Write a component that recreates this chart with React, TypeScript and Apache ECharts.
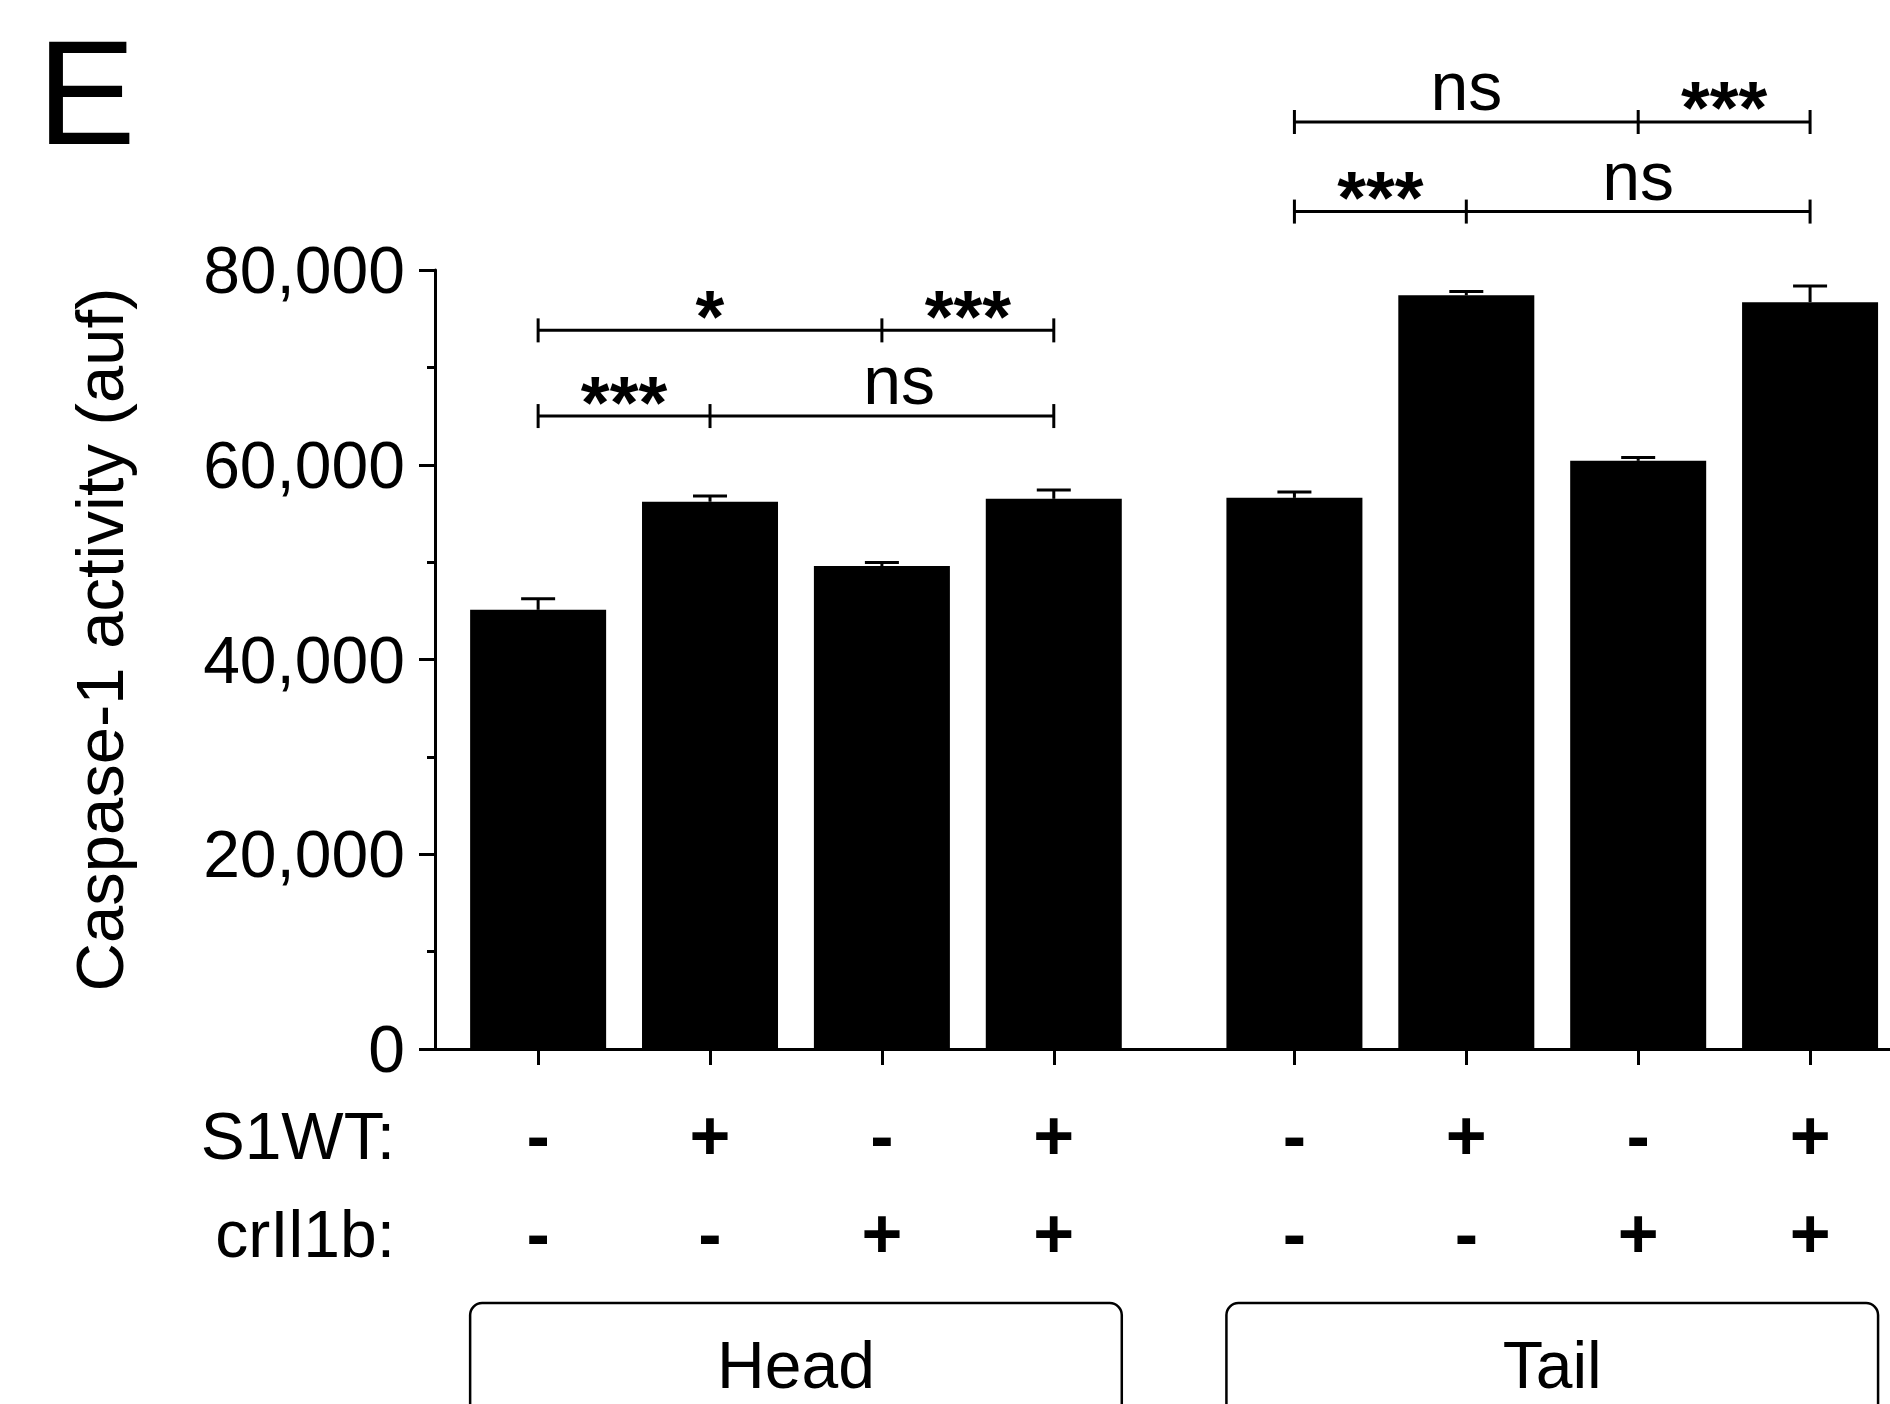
import React, { useEffect, useRef } from "react";
import * as echarts from "echarts";

const FONT = "'Liberation Sans', Arial, Helvetica, sans-serif";

const groupNames = ["Head", "Tail"];
const groupFirstBar = [0, 4];
const groupLastBar = [3, 7];
const s1wt = ["-", "+", "-", "+", "-", "+", "-", "+"];
const crIl1b = ["-", "-", "+", "+", "-", "-", "+", "+"];
const barPos = [0, 1, 2, 3, 4.4, 5.4, 6.4, 7.4];
const means = [45100, 56200, 49600, 56500, 56600, 77400, 60400, 76700];
const sem = [1150, 600, 350, 900, 600, 380, 350, 1650];

const bracketFrom = [0, 0, 4, 4];
const bracketMid = [1, 2, 5, 6];
const bracketTo = [3, 3, 7, 7];
const bracketLevel = [65000, 73800, 86000, 95200];
const leftMark = ["***", "*", "***", "ns"];
const rightMark = ["ns", "***", "ns", "***"];
const leftMarkPos = [0.5, 1, 4.9, 5.4];
const rightMarkPos = [2.1, 2.5, 6.4, 6.9];

const BAR_W = 136;

function markText(txt: string, x: number, yLine: number) {
  const isNs = txt === "ns";
  return {
    type: "text",
    x,
    y: isNs ? yLine - 36 : yLine - 14,
    style: {
      text: txt,
      fill: "#000",
      fontSize: isNs ? 68 : 74,
      fontWeight: isNs ? "normal" : "bold",
      fontFamily: FONT,
      align: "center",
      verticalAlign: "middle",
    },
  };
}

export default function App() {
  const ref = useRef<HTMLDivElement>(null);
  useEffect(() => {
    document.body.style.margin = "0";
    const chart = echarts.init(ref.current!, null, { renderer: "svg" });
    const lineStyle = { color: "#000", width: 3 };
    chart.setOption({
      animation: false,
      backgroundColor: "#fff",
      grid: {
        left: 435,
        right: 0,
        top: 270,
        bottom: 355,
        containLabel: false,
        outerBoundsMode: "none",
      },
      xAxis: {
        type: "value",
        min: -0.6,
        max: 7.865,
        splitLine: { show: false },
        axisLine: { show: true, onZero: false, lineStyle },
        axisTick: { show: true, customValues: barPos, length: 16, lineStyle },
        axisLabel: {
          show: true,
          customValues: barPos,
          margin: 38,
          lineHeight: 98,
          formatter: (v: number) => {
            const i = barPos.findIndex((p) => Math.abs(p - v) < 1e-6);
            if (i < 0) return "";
            return `{s|${s1wt[i]}}\n{s|${crIl1b[i]}}`;
          },
          rich: {
            s: {
              fontSize: 70,
              fontWeight: "bold",
              lineHeight: 98,
              fontFamily: FONT,
              color: "#000",
            },
          },
        },
      },
      yAxis: {
        type: "value",
        min: 0,
        max: 80000,
        interval: 20000,
        name: "Caspase-1 activity (auf)",
        nameLocation: "middle",
        nameRotate: 90,
        nameGap: 302,
        nameTextStyle: {
          fontSize: 67,
          fontFamily: FONT,
          color: "#000",
          padding: [0, 0, 0, 40],
        },
        splitLine: { show: false },
        axisLine: { show: true, onZero: false, lineStyle },
        axisTick: { show: true, length: 16, lineStyle },
        minorTick: { show: true, splitNumber: 2, length: 8, lineStyle },
        axisLabel: {
          fontSize: 66,
          fontFamily: FONT,
          color: "#000",
          margin: 30,
          formatter: (v: number) => v.toLocaleString("en-US"),
        },
      },
      series: [
        {
          type: "bar",
          data: barPos.map((p, i) => [p, means[i]]),
          barWidth: BAR_W,
          itemStyle: { color: "#000" },
          z: 2,
        },
        {
          type: "custom",
          z: 3,
          clip: false,
          data: barPos.map((p, i) => [p, means[i], means[i] + sem[i]]),
          renderItem: (params: any, api: any) => {
            const x = api.value(0);
            const base = api.coord([x, api.value(1)]);
            const top = api.coord([x, api.value(2)]);
            return {
              type: "group",
              children: [
                {
                  type: "line",
                  shape: { x1: top[0], y1: base[1], x2: top[0], y2: top[1] },
                  style: { stroke: "#000", lineWidth: 3 },
                },
                {
                  type: "line",
                  shape: { x1: top[0] - 17, y1: top[1], x2: top[0] + 17, y2: top[1] },
                  style: { stroke: "#000", lineWidth: 3 },
                },
              ],
            };
          },
        },
        {
          type: "custom",
          z: 4,
          clip: false,
          data: bracketLevel.map((lv, i) => [barPos[bracketFrom[i]], lv]),
          renderItem: (params: any, api: any) => {
            const i = params.dataIndex;
            const y = api.coord([0, bracketLevel[i]])[1];
            const xa = api.coord([barPos[bracketFrom[i]], 0])[0];
            const xm = api.coord([barPos[bracketMid[i]], 0])[0];
            const xb = api.coord([barPos[bracketTo[i]], 0])[0];
            const xl = api.coord([leftMarkPos[i], 0])[0];
            const xr = api.coord([rightMarkPos[i], 0])[0];
            const st = { stroke: "#000", lineWidth: 3 };
            const tick = (x: number) => ({
              type: "line",
              shape: { x1: x, y1: y - 12, x2: x, y2: y + 12 },
              style: st,
            });
            return {
              type: "group",
              children: [
                { type: "line", shape: { x1: xa, y1: y, x2: xb, y2: y }, style: st },
                tick(xa),
                tick(xm),
                tick(xb),
                markText(leftMark[i], xl, y),
                markText(rightMark[i], xr, y),
              ],
            };
          },
        },
        {
          type: "custom",
          z: 4,
          clip: false,
          data: groupNames.map((g, i) => [barPos[groupFirstBar[i]], 0]),
          renderItem: (params: any, api: any) => {
            const i = params.dataIndex;
            const cs = params.coordSys;
            const l = api.coord([barPos[groupFirstBar[i]], 0])[0] - BAR_W / 2;
            const r = api.coord([barPos[groupLastBar[i]], 0])[0] + BAR_W / 2;
            const top = cs.y + cs.height + 254;
            return {
              type: "group",
              children: [
                {
                  type: "rect",
                  shape: { x: l, y: top, width: r - l, height: 200, r: 12 },
                  style: { fill: "none", stroke: "#000", lineWidth: 2.5 },
                },
                {
                  type: "text",
                  x: (l + r) / 2,
                  y: top + 62,
                  style: {
                    text: groupNames[i],
                    fill: "#000",
                    fontSize: 66,
                    fontFamily: FONT,
                    align: "center",
                    verticalAlign: "middle",
                  },
                },
              ],
            };
          },
        },
      ],
      graphic: [
        {
          type: "text",
          x: 37,
          y: 92,
          style: {
            text: "E",
            fill: "#000",
            fontSize: 148,
            fontFamily: FONT,
            align: "left",
            verticalAlign: "middle",
          },
        },
        {
          type: "text",
          x: 395,
          y: 1136,
          style: {
            text: "S1WT:",
            fill: "#000",
            fontSize: 66,
            fontFamily: FONT,
            align: "right",
            verticalAlign: "middle",
          },
        },
        {
          type: "text",
          x: 395,
          y: 1234,
          style: {
            text: "crIl1b:",
            fill: "#000",
            fontSize: 66,
            fontFamily: FONT,
            align: "right",
            verticalAlign: "middle",
          },
        },
      ],
    });
    return () => chart.dispose();
  }, []);
  return <div ref={ref} style={{ width: 1890, height: 1404 }} />;
}
